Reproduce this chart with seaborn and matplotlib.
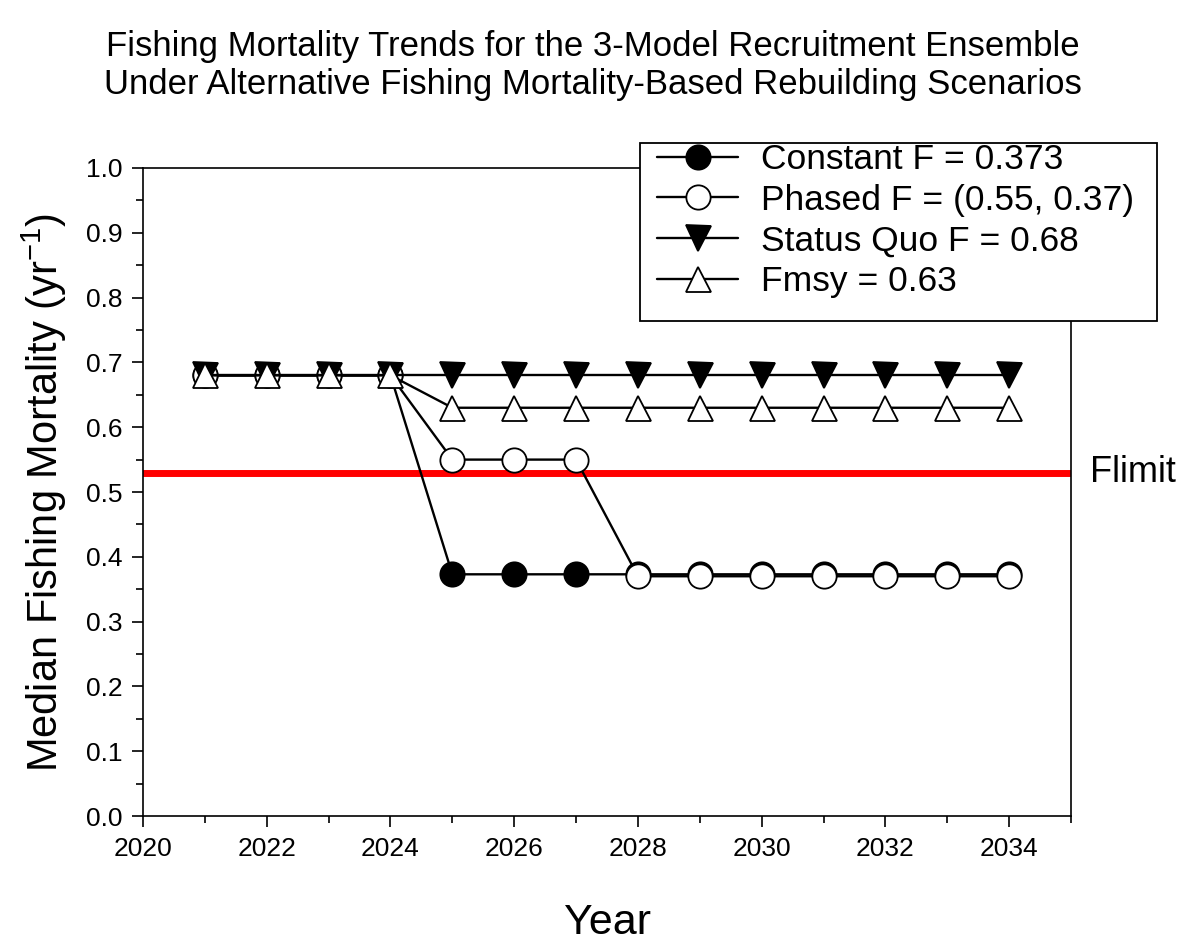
import pandas as pd
import matplotlib
matplotlib.use('Agg')
import matplotlib.pyplot as plt
from matplotlib.patches import Rectangle
from matplotlib.ticker import MultipleLocator
import seaborn as sns

# data
years = [2021, 2022, 2023, 2024, 2025, 2026, 2027, 2028, 2029, 2030, 2031, 2032, 2033, 2034]
constant_f = [0.68, 0.68, 0.68, 0.68, 0.373, 0.373, 0.373, 0.373, 0.373, 0.373, 0.373, 0.373, 0.373, 0.373]
phased_f = [0.68, 0.68, 0.68, 0.68, 0.55, 0.55, 0.55, 0.37, 0.37, 0.37, 0.37, 0.37, 0.37, 0.37]
status_quo_f = [0.68] * 14
fmsy_f = [0.68, 0.68, 0.68, 0.68, 0.63, 0.63, 0.63, 0.63, 0.63, 0.63, 0.63, 0.63, 0.63, 0.63]
labels = ['Constant F = 0.373', 'Phased F = (0.55, 0.37)', 'Status Quo F = 0.68', 'Fmsy = 0.63']
flimit = 0.53

sns.set_style('ticks')
plt.rcParams['font.family'] = ['Liberation Sans', 'DejaVu Sans']
plt.rcParams['mathtext.fontset'] = 'custom'
plt.rcParams['mathtext.rm'] = 'Liberation Sans'
plt.rcParams['mathtext.it'] = 'Liberation Sans:italic'
plt.rcParams['text.color'] = 'black'
plt.rcParams['axes.labelcolor'] = 'black'
plt.rcParams['xtick.color'] = 'black'
plt.rcParams['ytick.color'] = 'black'

df = pd.DataFrame({'Year': years, labels[0]: constant_f, labels[1]: phased_f,
                   labels[2]: status_quo_f, labels[3]: fmsy_f})

fig = plt.figure(figsize=(11.85, 9.41), dpi=100)
ax = fig.add_axes([0.1207, 0.1328, 0.7831, 0.6887])

ax.axhline(flimit, color='red', lw=5, zorder=1)

styles = [('o', 'black', 17.5), ('o', 'white', 17.5), ('v', 'black', 18), ('^', 'white', 18)]
for lab, (mk, fc, ms) in zip(labels, styles):
    sns.lineplot(data=df, x='Year', y=lab, ax=ax, color='black', lw=1.7,
                 marker=mk, markersize=ms, markerfacecolor=fc,
                 markeredgecolor='black', markeredgewidth=1.3, label=lab, zorder=3)

ax.set_xlim(2020, 2035)
ax.set_ylim(0, 1.0)
ax.xaxis.set_major_locator(MultipleLocator(2))
ax.xaxis.set_minor_locator(MultipleLocator(1))
ax.yaxis.set_major_locator(MultipleLocator(0.1))
ax.yaxis.set_minor_locator(MultipleLocator(0.05))
ax.yaxis.set_major_formatter(matplotlib.ticker.FormatStrFormatter('%.1f'))
ax.tick_params(which='major', direction='out', length=8, width=1.2, labelsize=19, pad=7)
ax.tick_params(which='minor', direction='out', length=5, width=1.2)
for sp in ax.spines.values():
    sp.set_color('black')
    sp.set_linewidth(1.2)

ax.set_xlabel('Year', fontsize=31, labelpad=30)
ax.set_ylabel('Median Fishing Mortality (yr$^{-1}$)', fontsize=30, labelpad=12)

ax.text(1.02, flimit, 'Flimit', transform=ax.get_yaxis_transform(),
        fontsize=26, va='center', ha='left')

fig.suptitle('Fishing Mortality Trends for the 3-Model Recruitment Ensemble\n'
             'Under Alternative Fishing Mortality-Based Rebuilding Scenarios',
             x=0.5, y=0.968, va='top', fontsize=25, linespacing=1.2)

# legend box (SigmaPlot style, extra room at the bottom)
W, H = 1185, 941
box = Rectangle((640 / W, 1 - 321 / H), (1157 - 640) / W, (321 - 143) / H,
                transform=fig.transFigure, facecolor='white', edgecolor='black',
                lw=1.3, zorder=4)
fig.patches.append(box)

handles, labs = ax.get_legend_handles_labels()
ax.get_legend().remove()
leg = fig.legend(handles, labs, loc='upper left', bbox_to_anchor=(657 / W, 1 - 143 / H),
                 fontsize=25.5, frameon=False, handlelength=2.3, handletextpad=0.65,
                 labelspacing=0.22, borderpad=0, borderaxespad=0)
leg.set_zorder(5)

fig.savefig('out.png', dpi=100, facecolor='white')
